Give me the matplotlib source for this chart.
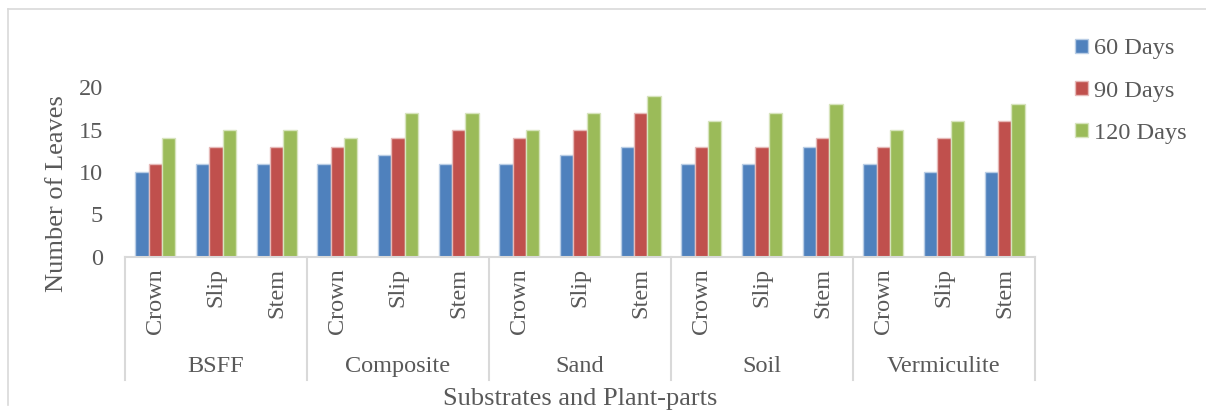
import numpy as np
import matplotlib.pyplot as plt
from matplotlib.lines import Line2D

plt.rcParams['font.family'] = ['Liberation Serif', 'DejaVu Serif']
plt.rcParams['font.size'] = 17.5
plt.rcParams['text.color'] = '#595959'

substrates = ['BSFF', 'Composite', 'Sand', 'Soil', 'Vermiculite']
parts = ['Crown', 'Slip', 'Stem']
days_60 = [10, 11, 11, 11, 12, 11, 11, 12, 13, 11, 11, 13, 11, 10, 10]
days_90 = [11, 13, 13, 13, 14, 15, 14, 15, 17, 13, 13, 14, 13, 14, 16]
days_120 = [14, 15, 15, 14, 17, 17, 15, 17, 19, 16, 17, 18, 15, 16, 18]
series = [('60 Days', days_60, '#4F81BD', '#b9cde5'),
          ('90 Days', days_90, '#C0504D', '#e6b9b8'),
          ('120 Days', days_120, '#9BBB59', '#d7e4bd')]
yticks = [0, 5, 10, 15, 20]

W, H = 1206, 412
fig = plt.figure(figsize=(W / 100, H / 100), dpi=100)
ax = fig.add_axes([125 / W, (H - 257) / H, 910 / W, 170 / H])

n = len(days_60)
x = np.arange(n)
bw = 0.22
for i, (name, vals, col, edge) in enumerate(series):
    ax.bar(x + (i - 1) * bw, vals, width=bw, color=col, edgecolor=edge,
           linewidth=1.0, label=name, zorder=2)

ax.set_xlim(-0.5, n - 0.5)
ax.set_ylim(0, 20)
ax.set_yticks(yticks)
ax.tick_params(axis='y', length=0, pad=16, labelcolor='#595959')
ax.set_xticks([])
for s in ['top', 'right', 'left']:
    ax.spines[s].set_visible(False)
ax.spines['bottom'].set_color('#d9d9d9')
ax.spines['bottom'].set_linewidth(1.5)

tr = ax.get_xaxis_transform()
# plant-part labels
for k in range(n):
    ax.text(k, -0.065, parts[k % 3], rotation=90, ha='center', va='top',
            transform=tr, color='#595959')
# substrate labels and separators
for g, name in enumerate(substrates):
    ax.text(3 * g + 1, -0.647, name, ha='center', va='center',
            transform=tr, color='#595959')
for b in np.arange(-0.5, n, 3):
    ax.plot([b, b], [0, -0.724], transform=tr, color='#d9d9d9',
            linewidth=1.5, clip_on=False)

fig.text(57 / W, 1 - 194 / H, 'Number of Leaves', rotation=90, ha='center',
         va='center', color='#595959', fontsize=19)
fig.text(580 / W, 1 - 399 / H, 'Substrates and Plant-parts', ha='center',
         va='center', color='#595959', fontsize=19)

leg = ax.legend(loc='upper left', bbox_to_anchor=(1056 / W, 1 - 19 / H),
                bbox_transform=fig.transFigure, frameon=False,
                handlelength=0.5, handleheight=0.5, handletextpad=0.25,
                labelspacing=0.87, labelcolor='#595959', borderpad=0.3)

# chart area border
fig.add_artist(Line2D([8 / W, 8 / W], [1 - 9 / H, 1 - 405 / H],
                      transform=fig.transFigure, color='#d9d9d9', linewidth=1.2))
fig.add_artist(Line2D([8 / W, 1.0], [1 - 9 / H, 1 - 9 / H],
                      transform=fig.transFigure, color='#d9d9d9', linewidth=1.2))

fig.savefig('out.png', dpi=100)
